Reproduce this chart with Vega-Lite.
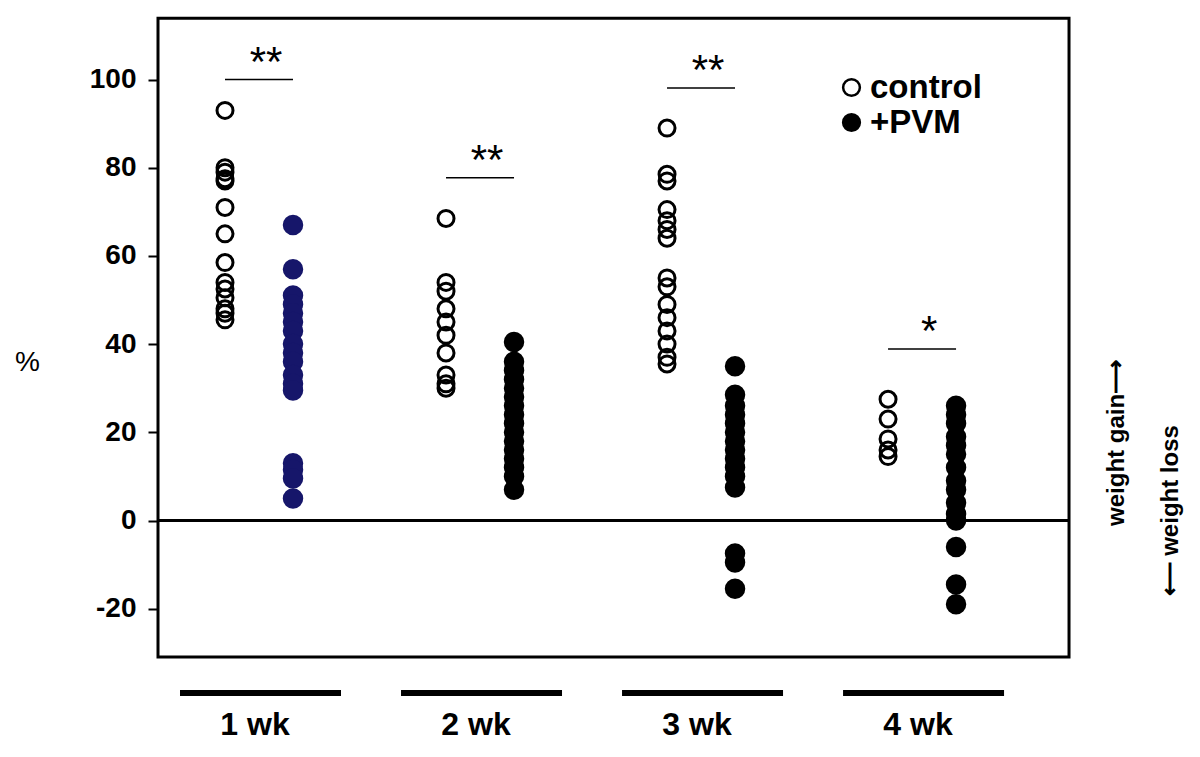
{
  "$schema": "https://vega.github.io/schema/vega-lite/v6.json",
  "width": 1037,
  "height": 752,
  "autosize": {"type": "none"},
  "padding": {"left": 158, "top": 5, "right": 5, "bottom": 0},
  "background": "white",
  "config": {"view": {"stroke": null}, "font": "Liberation Sans"},
  "datasets": {
    "points": [
      {"week": 1, "group": "control", "pct": 93},
      {"week": 1, "group": "control", "pct": 80},
      {"week": 1, "group": "control", "pct": 79},
      {"week": 1, "group": "control", "pct": 77.5},
      {"week": 1, "group": "control", "pct": 77},
      {"week": 1, "group": "control", "pct": 71},
      {"week": 1, "group": "control", "pct": 65},
      {"week": 1, "group": "control", "pct": 58.5},
      {"week": 1, "group": "control", "pct": 54},
      {"week": 1, "group": "control", "pct": 52.5},
      {"week": 1, "group": "control", "pct": 50.5},
      {"week": 1, "group": "control", "pct": 48},
      {"week": 1, "group": "control", "pct": 47},
      {"week": 1, "group": "control", "pct": 45.5},
      {"week": 1, "group": "+PVM", "pct": 67},
      {"week": 1, "group": "+PVM", "pct": 57},
      {"week": 1, "group": "+PVM", "pct": 51},
      {"week": 1, "group": "+PVM", "pct": 49},
      {"week": 1, "group": "+PVM", "pct": 47},
      {"week": 1, "group": "+PVM", "pct": 45},
      {"week": 1, "group": "+PVM", "pct": 43},
      {"week": 1, "group": "+PVM", "pct": 40},
      {"week": 1, "group": "+PVM", "pct": 38},
      {"week": 1, "group": "+PVM", "pct": 36},
      {"week": 1, "group": "+PVM", "pct": 33},
      {"week": 1, "group": "+PVM", "pct": 31},
      {"week": 1, "group": "+PVM", "pct": 29.5},
      {"week": 1, "group": "+PVM", "pct": 13},
      {"week": 1, "group": "+PVM", "pct": 11.5},
      {"week": 1, "group": "+PVM", "pct": 9.5},
      {"week": 1, "group": "+PVM", "pct": 5},
      {"week": 2, "group": "control", "pct": 68.5},
      {"week": 2, "group": "control", "pct": 54},
      {"week": 2, "group": "control", "pct": 52},
      {"week": 2, "group": "control", "pct": 48},
      {"week": 2, "group": "control", "pct": 45},
      {"week": 2, "group": "control", "pct": 42},
      {"week": 2, "group": "control", "pct": 38},
      {"week": 2, "group": "control", "pct": 33},
      {"week": 2, "group": "control", "pct": 31},
      {"week": 2, "group": "control", "pct": 30},
      {"week": 2, "group": "+PVM", "pct": 40.5},
      {"week": 2, "group": "+PVM", "pct": 36},
      {"week": 2, "group": "+PVM", "pct": 34},
      {"week": 2, "group": "+PVM", "pct": 32},
      {"week": 2, "group": "+PVM", "pct": 30},
      {"week": 2, "group": "+PVM", "pct": 28},
      {"week": 2, "group": "+PVM", "pct": 26},
      {"week": 2, "group": "+PVM", "pct": 24},
      {"week": 2, "group": "+PVM", "pct": 22},
      {"week": 2, "group": "+PVM", "pct": 20},
      {"week": 2, "group": "+PVM", "pct": 18},
      {"week": 2, "group": "+PVM", "pct": 16},
      {"week": 2, "group": "+PVM", "pct": 14},
      {"week": 2, "group": "+PVM", "pct": 12},
      {"week": 2, "group": "+PVM", "pct": 10},
      {"week": 2, "group": "+PVM", "pct": 7},
      {"week": 3, "group": "control", "pct": 89},
      {"week": 3, "group": "control", "pct": 78.5},
      {"week": 3, "group": "control", "pct": 77},
      {"week": 3, "group": "control", "pct": 70.5},
      {"week": 3, "group": "control", "pct": 68},
      {"week": 3, "group": "control", "pct": 66},
      {"week": 3, "group": "control", "pct": 64},
      {"week": 3, "group": "control", "pct": 55},
      {"week": 3, "group": "control", "pct": 53},
      {"week": 3, "group": "control", "pct": 49},
      {"week": 3, "group": "control", "pct": 46},
      {"week": 3, "group": "control", "pct": 43},
      {"week": 3, "group": "control", "pct": 40},
      {"week": 3, "group": "control", "pct": 37},
      {"week": 3, "group": "control", "pct": 35.5},
      {"week": 3, "group": "+PVM", "pct": 35},
      {"week": 3, "group": "+PVM", "pct": 28.5},
      {"week": 3, "group": "+PVM", "pct": 26},
      {"week": 3, "group": "+PVM", "pct": 24},
      {"week": 3, "group": "+PVM", "pct": 22},
      {"week": 3, "group": "+PVM", "pct": 20},
      {"week": 3, "group": "+PVM", "pct": 18},
      {"week": 3, "group": "+PVM", "pct": 16},
      {"week": 3, "group": "+PVM", "pct": 14},
      {"week": 3, "group": "+PVM", "pct": 12},
      {"week": 3, "group": "+PVM", "pct": 10},
      {"week": 3, "group": "+PVM", "pct": 7.5},
      {"week": 3, "group": "+PVM", "pct": -7.5},
      {"week": 3, "group": "+PVM", "pct": -9.5},
      {"week": 3, "group": "+PVM", "pct": -15.5},
      {"week": 4, "group": "control", "pct": 27.5},
      {"week": 4, "group": "control", "pct": 23},
      {"week": 4, "group": "control", "pct": 18.5},
      {"week": 4, "group": "control", "pct": 16},
      {"week": 4, "group": "control", "pct": 14.5},
      {"week": 4, "group": "+PVM", "pct": 26},
      {"week": 4, "group": "+PVM", "pct": 24},
      {"week": 4, "group": "+PVM", "pct": 22},
      {"week": 4, "group": "+PVM", "pct": 19},
      {"week": 4, "group": "+PVM", "pct": 17},
      {"week": 4, "group": "+PVM", "pct": 15},
      {"week": 4, "group": "+PVM", "pct": 12},
      {"week": 4, "group": "+PVM", "pct": 9},
      {"week": 4, "group": "+PVM", "pct": 7},
      {"week": 4, "group": "+PVM", "pct": 4},
      {"week": 4, "group": "+PVM", "pct": 1.5},
      {"week": 4, "group": "+PVM", "pct": 0},
      {"week": 4, "group": "+PVM", "pct": -6},
      {"week": 4, "group": "+PVM", "pct": -14.5},
      {"week": 4, "group": "+PVM", "pct": -19}
    ],
    "sig": [
      {"week": 1, "level": 100, "label": "**"},
      {"week": 2, "level": 77.7, "label": "**"},
      {"week": 3, "level": 98.1, "label": "**"},
      {"week": 4, "level": 38.9, "label": "*"}
    ],
    "weeks": [
      {"week": 1, "label": "1 wk"},
      {"week": 2, "label": "2 wk"},
      {"week": 3, "label": "3 wk"},
      {"week": 4, "label": "4 wk"}
    ]
  },
  "layer": [
    {
      "data": {"values": [{}]},
      "mark": {"type": "rect", "fill": "transparent", "stroke": "black", "strokeWidth": 3},
      "encoding": {
        "x": {"datum": 0.543, "type": "quantitative", "scale": {"domain": [0.543, 5.235], "nice": false, "zero": false}, "axis": null},
        "x2": {"datum": 4.665},
        "y": {
          "datum": -30.95, "type": "quantitative",
          "scale": {"domain": [-53.63, 116.9], "nice": false, "zero": false},
          "axis": {
            "values": [-20, 0, 20, 40, 60, 80, 100], "domain": false, "grid": false,
            "ticks": true, "tickSize": 10, "tickWidth": 2, "tickColor": "black",
            "labelExpr": "'' + datum.value",
            "labelFontSize": 28, "labelFontWeight": "bold", "labelColor": "black", "labelPadding": 12, "labelFont": "Liberation Sans",
            "title": "%", "titleAngle": 0, "titleX": -131, "titleY": 357, "titleFontSize": 28, "titleFontWeight": "normal",
            "titleAlign": "center", "titleBaseline": "middle", "titleColor": "black", "titleFont": "Liberation Sans"
          }
        },
        "y2": {"datum": 113.9}
      }
    },
    {
      "data": {"values": [{}]},
      "mark": {"type": "rule", "stroke": "black", "strokeWidth": 3},
      "encoding": {
        "x": {"datum": 0.543, "type": "quantitative", "scale": {"domain": [0.543, 5.235], "nice": false, "zero": false}, "axis": null},
        "x2": {"datum": 4.665},
        "y": {"datum": 0, "type": "quantitative", "scale": {"domain": [-53.63, 116.9], "nice": false, "zero": false}}
      }
    },
    {
      "data": {"name": "points"},
      "transform": [{"filter": "datum.group == 'control'"}],
      "mark": {"type": "point", "shape": "circle", "filled": true, "stroke": "black", "strokeWidth": 3, "size": 256, "opacity": 1, "xOffset": -34},
      "encoding": {
        "x": {"field": "week", "type": "quantitative", "scale": {"domain": [0.543, 5.235], "nice": false, "zero": false}, "axis": null},
        "y": {"field": "pct", "type": "quantitative", "scale": {"domain": [-53.63, 116.9], "nice": false, "zero": false}},
        "fill": {
          "field": "group", "type": "nominal",
          "scale": {"domain": ["control", "+PVM"], "range": ["transparent", "black"]},
          "legend": {
            "orient": "none", "legendX": 677, "legendY": 66, "title": null,
            "labelFontSize": 33, "labelFontWeight": "bold", "labelFont": "Liberation Sans", "labelColor": "black",
            "symbolType": "circle", "symbolSize": 280, "symbolStrokeColor": "black", "symbolStrokeWidth": 2.5,
            "rowPadding": 1, "labelOffset": 2
          }
        }
      }
    },
    {
      "data": {"name": "points"},
      "transform": [{"filter": "datum.group == '+PVM'"}],
      "mark": {"type": "point", "shape": "circle", "filled": true, "strokeWidth": 0, "size": 420, "opacity": 1, "xOffset": 34},
      "encoding": {
        "x": {"field": "week", "type": "quantitative", "scale": {"domain": [0.543, 5.235], "nice": false, "zero": false}, "axis": null},
        "y": {"field": "pct", "type": "quantitative", "scale": {"domain": [-53.63, 116.9], "nice": false, "zero": false}},
        "fill": {
          "field": "group", "type": "nominal",
          "scale": {"domain": ["control", "+PVM"], "range": ["transparent", "black"]},
          "condition": {"test": "datum.week == 1", "value": "#16166a"}
        }
      }
    },
    {
      "data": {"name": "sig"},
      "mark": {"type": "rule", "stroke": "black", "strokeWidth": 1.5, "xOffset": -34, "x2Offset": 34},
      "encoding": {
        "x": {"field": "week", "type": "quantitative", "scale": {"domain": [0.543, 5.235], "nice": false, "zero": false}, "axis": null},
        "x2": {"field": "week"},
        "y": {"field": "level", "type": "quantitative", "scale": {"domain": [-53.63, 116.9], "nice": false, "zero": false}}
      }
    },
    {
      "data": {"name": "sig"},
      "mark": {"type": "text", "fontSize": 42, "font": "Liberation Sans", "color": "black", "align": "center", "baseline": "alphabetic", "xOffset": 7, "dy": -4},
      "encoding": {
        "x": {"field": "week", "type": "quantitative", "scale": {"domain": [0.543, 5.235], "nice": false, "zero": false}, "axis": null},
        "y": {"field": "level", "type": "quantitative", "scale": {"domain": [-53.63, 116.9], "nice": false, "zero": false}},
        "text": {"field": "label"}
      }
    },
    {
      "data": {"name": "weeks"},
      "mark": {"type": "rule", "stroke": "black", "strokeWidth": 6, "xOffset": -79, "x2Offset": 82},
      "encoding": {
        "x": {"field": "week", "type": "quantitative", "scale": {"domain": [0.543, 5.235], "nice": false, "zero": false}, "axis": null},
        "x2": {"field": "week"},
        "y": {"datum": -39.1, "type": "quantitative", "scale": {"domain": [-53.63, 116.9], "nice": false, "zero": false}}
      }
    },
    {
      "data": {"name": "weeks"},
      "mark": {"type": "text", "fontSize": 32, "fontWeight": "bold", "font": "Liberation Sans", "color": "black", "align": "center", "baseline": "middle", "xOffset": -4},
      "encoding": {
        "x": {"field": "week", "type": "quantitative", "scale": {"domain": [0.543, 5.235], "nice": false, "zero": false}, "axis": null},
        "y": {"datum": -46.4, "type": "quantitative", "scale": {"domain": [-53.63, 116.9], "nice": false, "zero": false}},
        "text": {"field": "label"}
      }
    },
    {
      "data": {"values": [{}]},
      "mark": {"type": "text", "text": "weight gain\u27f6", "angle": 270, "fontSize": 24, "fontWeight": "bold", "font": "Liberation Sans", "color": "black", "align": "center", "baseline": "middle"},
      "encoding": {
        "x": {"datum": 4.882, "type": "quantitative", "scale": {"domain": [0.543, 5.235], "nice": false, "zero": false}, "axis": null},
        "y": {"datum": 17.6, "type": "quantitative", "scale": {"domain": [-53.63, 116.9], "nice": false, "zero": false}}
      }
    },
    {
      "data": {"values": [{}]},
      "mark": {"type": "text", "text": "\u27f5 weight loss", "angle": 270, "fontSize": 24, "fontWeight": "bold", "font": "Liberation Sans", "color": "black", "align": "center", "baseline": "middle"},
      "encoding": {
        "x": {"datum": 5.127, "type": "quantitative", "scale": {"domain": [0.543, 5.235], "nice": false, "zero": false}, "axis": null},
        "y": {"datum": 2.2, "type": "quantitative", "scale": {"domain": [-53.63, 116.9], "nice": false, "zero": false}}
      }
    }
  ]
}
